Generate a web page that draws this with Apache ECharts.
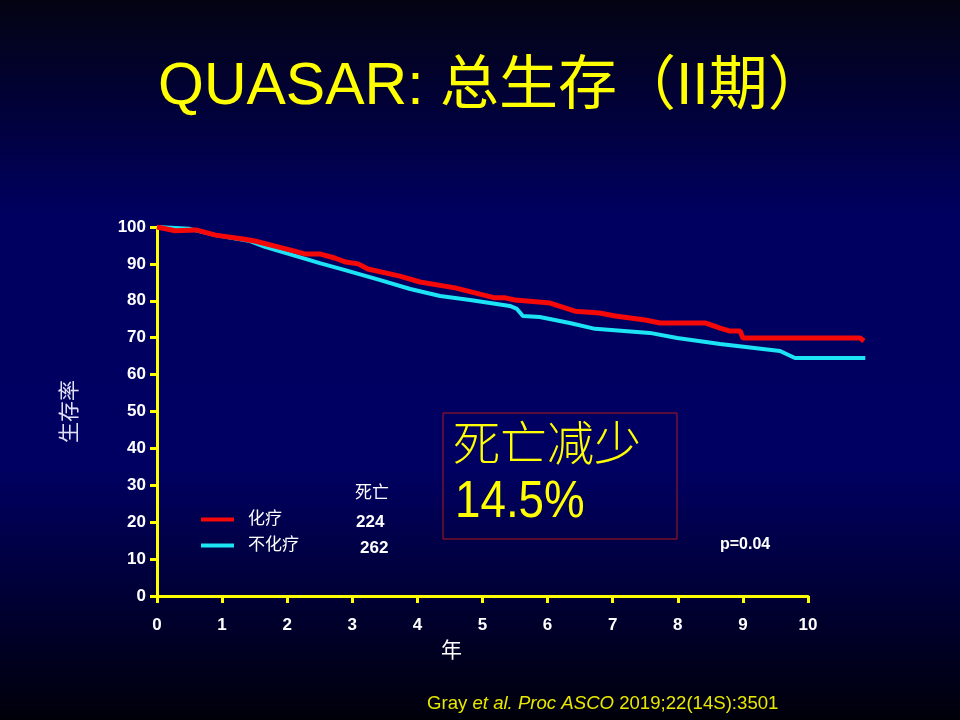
<!DOCTYPE html>
<html>
<head>
<meta charset="utf-8">
<style>
  html, body { margin: 0; padding: 0; background: #000; }
  #chart { width: 960px; height: 720px; }
</style>
<script src="https://cdn.jsdelivr.net/npm/echarts@6/dist/echarts.min.js"></script>
</head>
<body>
<div id="chart"></div>
<script>
// 化疗 (chemotherapy) curve: years and survival %
const chemoYears = [0, 0.28, 0.6, 0.9, 1.35, 1.5, 2.04, 2.27, 2.5, 2.73, 2.9, 3.09, 3.24, 3.73, 4.04, 4.58, 4.96, 5.19, 5.35, 5.5, 6.04, 6.42, 6.8, 7.04, 7.5, 7.73, 8.42, 8.65, 8.8, 8.96, 9.0, 10.8, 10.86];
const chemoSurv  = [100, 99.0, 99.2, 97.8, 96.7, 96.2, 93.8, 92.7, 92.7, 91.6, 90.5, 90.0, 88.6, 86.7, 85.1, 83.5, 81.8, 80.8, 80.8, 80.2, 79.4, 77.2, 76.7, 75.9, 74.8, 74.0, 74.0, 72.6, 71.8, 71.8, 69.9, 69.9, 69.1];

// 不化疗 (no chemotherapy) curve
const noChemoYears = [0, 0.5, 0.9, 1.43, 1.66, 1.97, 2.5, 2.89, 3.43, 3.89, 4.35, 4.81, 5.42, 5.53, 5.62, 5.88, 6.34, 6.73, 7.57, 7.99, 8.65, 9.57, 9.8, 10.88];
const noChemoSurv  = [100, 99.5, 97.8, 96.2, 94.6, 93.0, 90.2, 88.3, 85.6, 83.2, 81.3, 80.2, 78.6, 77.8, 75.9, 75.6, 74.0, 72.4, 71.3, 69.9, 68.3, 66.4, 64.5, 64.5];

const seriesNames = ['化疗', '不化疗'];
const deaths = ['224', '262'];

const yellow = '#ffff00';
const white = '#ffffff';
const latin = '"Liberation Sans", Arial, sans-serif';
const cjk = '"Liberation Sans", "Noto Sans CJK SC", sans-serif';

function pairs(xs, ys) {
    return xs.map((x, i) => [x, ys[i]]);
}

// the curves run past the last labelled year, so they sit on a second,
// wider grid with hidden axes of the same scale (65.1 px per year)
const plotLeft = 157, plotTop = 227, plotBottom = 124;
const axisYears = 10, curveYears = 11;
const axisWidth = 651;
const curveWidth = axisWidth * curveYears / axisYears;

const chart = echarts.init(document.getElementById('chart'));

const option = {
    backgroundColor: new echarts.graphic.LinearGradient(0, 0, 0, 1, [
        { offset: 0, color: '#030312' },
        { offset: 0.3, color: '#000060' },
        { offset: 0.65, color: '#000062' },
        { offset: 1, color: '#00000a' }
    ]),
    animation: false,
    title: {
        text: 'QUASAR: 总生存（II期）',
        left: 153,
        top: 53,
        textStyle: { color: yellow, fontSize: 59, fontWeight: 'normal', fontFamily: cjk }
    },
    grid: [
        { left: plotLeft, width: axisWidth, top: plotTop, bottom: plotBottom },
        { left: plotLeft, width: curveWidth, top: plotTop, bottom: plotBottom }
    ],
    legend: {
        data: seriesNames,
        orient: 'vertical',
        left: 196,
        top: 506,
        icon: 'rect',
        itemWidth: 33,
        itemHeight: 4,
        itemGap: 9,
        textStyle: { color: white, fontSize: 17, fontFamily: cjk, padding: [0, 0, 0, 9] }
    },
    xAxis: [
        {
            gridIndex: 0,
            type: 'value',
            min: 0,
            max: axisYears,
            interval: 1,
            splitLine: { show: false },
            axisLine: { show: true, onZero: false, lineStyle: { color: yellow, width: 3 } },
            axisTick: { show: true, length: 7, lineStyle: { color: yellow, width: 3 } },
            axisLabel: { color: white, fontSize: 17, fontWeight: 'bold', fontFamily: latin, margin: 21 }
        },
        {
            gridIndex: 1,
            type: 'value',
            min: 0,
            max: curveYears,
            show: false
        }
    ],
    yAxis: [
        {
            gridIndex: 0,
            type: 'value',
            min: 0,
            max: 100,
            interval: 10,
            name: '生存率',
            nameLocation: 'middle',
            nameGap: 76,
            nameRotate: 90,
            nameTextStyle: { color: '#e0e0f8', fontSize: 21, fontFamily: cjk },
            splitLine: { show: false },
            axisLine: { show: true, lineStyle: { color: yellow, width: 3 } },
            axisTick: { show: true, length: 7, lineStyle: { color: yellow, width: 3 } },
            axisLabel: { color: white, fontSize: 17, fontWeight: 'bold', fontFamily: latin, margin: 11 }
        },
        {
            gridIndex: 1,
            type: 'value',
            min: 0,
            max: 100,
            show: false
        }
    ],
    series: [
        {
            name: seriesNames[1],
            type: 'line',
            xAxisIndex: 1,
            yAxisIndex: 1,
            data: pairs(noChemoYears, noChemoSurv),
            symbol: 'none',
            z: 2,
            itemStyle: { color: '#1de4f5' },
            lineStyle: { color: '#1de4f5', width: 4 }
        },
        {
            name: seriesNames[0],
            type: 'line',
            xAxisIndex: 1,
            yAxisIndex: 1,
            data: pairs(chemoYears, chemoSurv),
            symbol: 'none',
            z: 3,
            itemStyle: { color: '#f40808' },
            lineStyle: { color: '#f40808', width: 5 }
        }
    ],
    graphic: [
        {
            type: 'text', left: 355, top: 485,
            style: { text: '死亡', fill: white, font: '17px ' + cjk }
        },
        {
            type: 'text', left: 356, top: 514,
            style: { text: deaths[0], fill: white, font: 'bold 17px ' + latin }
        },
        {
            type: 'text', left: 360, top: 540,
            style: { text: deaths[1], fill: white, font: 'bold 17px ' + latin }
        },
        {
            type: 'rect',
            shape: { x: 443, y: 413, width: 234, height: 126 },
            style: { fill: 'none', stroke: '#b01818', lineWidth: 1 }
        },
        {
            type: 'text', left: 453, top: 419,
            style: { text: '死亡减少', fill: yellow, font: '300 47px "Noto Sans CJK SC", sans-serif' }
        },
        {
            type: 'text', x: 455, y: 477, scaleX: 0.88,
            style: { text: '14.5%', fill: yellow, font: '52px ' + latin }
        },
        {
            type: 'text', left: 720, top: 537,
            style: { text: 'p=0.04', fill: white, font: 'bold 16px ' + latin }
        },
        {
            type: 'text', left: 441, top: 639,
            style: { text: '年', fill: white, font: '21px "Noto Sans CJK SC", sans-serif' }
        },
        {
            type: 'text', left: 427, top: 694,
            style: {
                text: '{n|Gray }{i|et al. Proc ASCO}{n| 2019;22(14S):3501}',
                rich: {
                    n: { fill: '#e8e800', font: '18.6px ' + latin },
                    i: { fill: '#e8e800', font: 'italic 18.6px ' + latin }
                }
            }
        }
    ]
};

chart.setOption(option);
window.addEventListener('resize', () => chart.resize());
</script>
</body>
</html>
